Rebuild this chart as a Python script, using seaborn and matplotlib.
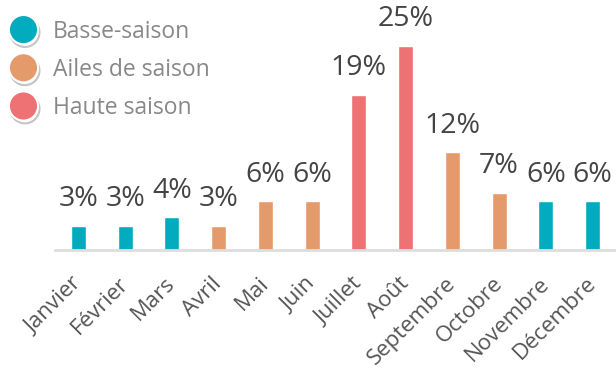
import matplotlib
matplotlib.use("Agg")
import matplotlib.pyplot as plt
import matplotlib.patheffects as pe
from matplotlib.lines import Line2D
import seaborn as sns
import pandas as pd

months = ["Janvier", "Février", "Mars", "Avril", "Mai", "Juin", "Juillet",
          "Août", "Septembre", "Octobre", "Novembre", "Décembre"]
shares = [3, 3, 4, 3, 6, 6, 19, 25, 12, 7, 6, 6]
seasons = ["Basse-saison", "Basse-saison", "Basse-saison", "Ailes de saison",
           "Ailes de saison", "Ailes de saison", "Haute saison", "Haute saison",
           "Ailes de saison", "Ailes de saison", "Basse-saison", "Basse-saison"]
season_order = ["Basse-saison", "Ailes de saison", "Haute saison"]
season_colors = {"Basse-saison": "#02abbd", "Ailes de saison": "#e59a6c",
                 "Haute saison": "#ee7173"}

df = pd.DataFrame({"mois": months, "part": shares, "saison": seasons})

sns.set_theme(style="white")
plt.rcParams["font.family"] = ["Open Sans", "DejaVu Sans"]

fig = plt.figure(figsize=(6.16, 3.69), dpi=100)
ax = fig.add_axes([55 / 616, 119 / 369, 561 / 616, 250 / 369])

sns.barplot(data=df, x="mois", y="part", hue="saison", order=months,
            hue_order=season_order, palette=season_colors, dodge=False,
            width=0.32, legend=False, ax=ax, saturation=1)

ax.set_xlim(-0.5, 11.5)
ax.set_ylim(0, 250 / 8.16)
for s in ["top", "right", "left"]:
    ax.spines[s].set_visible(False)
ax.spines["bottom"].set_color("#dddddd")
ax.spines["bottom"].set_linewidth(2)
ax.set_yticks([])
ax.set_xlabel("")
ax.set_ylabel("")
ax.tick_params(axis="x", length=0, pad=22)
for lbl in ax.get_xticklabels():
    lbl.set_rotation(45)
    lbl.set_ha("right")
    lbl.set_va("center")
    lbl.set_rotation_mode("anchor")
    lbl.set_fontsize(16)
    lbl.set_color("#555555")

for i, v in enumerate(shares):
    ax.annotate(f"{v}%", (i, v), xytext=(0, 9), textcoords="offset points",
                ha="center", va="bottom", fontsize=20.5, color="#444444")

handles = [Line2D([], [], marker="o", linestyle="none", markersize=21,
                  markerfacecolor=season_colors[s], markeredgecolor="white",
                  markeredgewidth=1.5) for s in season_order]
leg = fig.legend(handles, season_order, loc="upper left",
                 bbox_to_anchor=(0.0, 1 - 7 / 369), frameon=False,
                 handletextpad=0.8, labelspacing=0.62, borderaxespad=0.15,
                 handlelength=0.95, prop={"size": 16.5})
for t in leg.get_texts():
    t.set_color("#888888")
for h in leg.legend_handles:
    h.set_path_effects([pe.SimpleLineShadow(offset=(1, -2), shadow_color="#555555",
                                            alpha=0.35),
                        pe.Normal()])

fig.savefig("out.png", dpi=100)
